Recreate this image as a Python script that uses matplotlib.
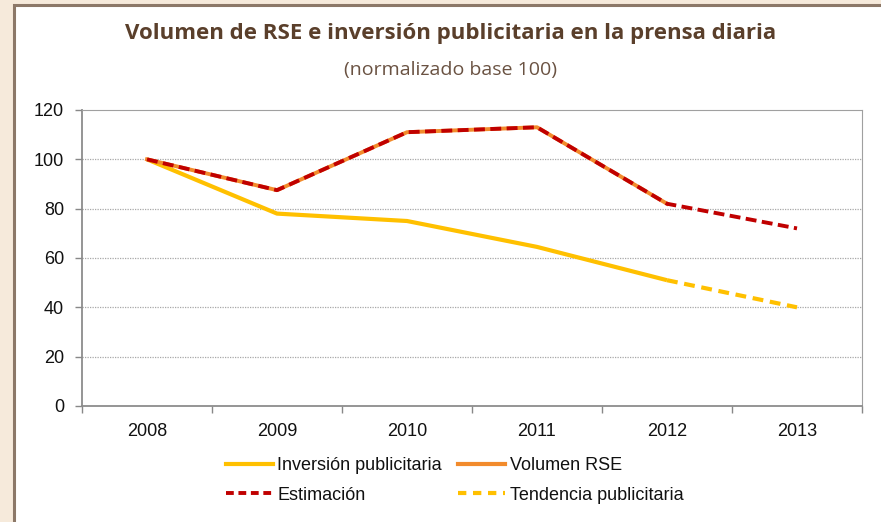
import matplotlib
matplotlib.use("Agg")
import matplotlib.pyplot as plt
from matplotlib.patches import Rectangle
from matplotlib.lines import Line2D

years = ["2008", "2009", "2010", "2011", "2012", "2013"]
inversion = [100, 78, 75, 64.5, 51]          # 2008-2012
tendencia = [51, 40]                          # 2012-2013
volumen_rse = [100, 87.5, 111, 113, 82]       # 2008-2012
estimacion = [100, 87.5, 111, 113, 82, 72]    # 2008-2013
yticks = [0, 20, 40, 60, 80, 100, 120]

W, H = 881, 522
fig = plt.figure(figsize=(W / 100, H / 100), dpi=100)
fig.patch.set_facecolor("#f6eadb")

# white panel with brown border
panel = Rectangle((14 / W, -0.05), 1.1, (522 - 5) / H + 0.05, transform=fig.transFigure,
                  facecolor="white", edgecolor="#8c7868", linewidth=2.2, zorder=-10)
fig.patches.append(panel)

ax = fig.add_axes([82 / W, (522 - 406) / H, 780 / W, 296 / H])
ax.set_facecolor("white")
ax.set_zorder(1)

x_all = list(range(len(years)))
yellow = "#ffc000"
orange = "#f28b2c"
red = "#c00000"

ax.plot(x_all[:5], inversion, color=yellow, lw=3.0, solid_capstyle="butt", zorder=3)
ax.plot(x_all[4:6], tendencia, color=yellow, lw=3.0, linestyle=(0, (2.6, 1.6)), zorder=3)
ax.plot(x_all[:5], volumen_rse, color=orange, lw=2.8, zorder=4)
ax.plot(x_all, estimacion, color=red, lw=2.8, linestyle=(0, (2.8, 1.4)), zorder=5)

ax.set_xlim(-0.5, 5.5)
ax.set_ylim(0, 120)
ax.set_yticks(yticks)
ax.set_yticklabels([str(v) for v in yticks])
ax.set_xticks([i - 0.5 for i in range(7)])
ax.set_xticklabels([])
ax.set_xticks(x_all, minor=True)
ax.set_xticklabels(years, minor=True)
ax.tick_params(axis="x", which="major", length=5, width=1, color="#888888", direction="out")
ax.tick_params(axis="x", which="minor", length=0, pad=12)
ax.tick_params(axis="y", length=5, width=1, color="#888888", direction="out", pad=8)
for lab in ax.get_xticklabels(minor=True) + ax.get_yticklabels():
    lab.set_fontfamily("Liberation Sans")
    lab.set_fontsize(13)
    lab.set_color("#111111")

for g in yticks[1:-1]:
    ax.axhline(g, color="#a8a8a8", lw=0.9, linestyle=(0, (1, 1)), zorder=1)

ax.spines["left"].set_color("#8c8c8c")
ax.spines["bottom"].set_color("#8c8c8c")
ax.spines["left"].set_linewidth(1.3)
ax.spines["bottom"].set_linewidth(1.3)
ax.spines["top"].set_color("#a0a0a0")
ax.spines["right"].set_color("#a0a0a0")

fig.text(451 / W, 1 - 33 / H, "Volumen de RSE e inversión publicitaria en la prensa diaria",
         ha="center", va="center", fontsize=16, fontweight="bold", color="#5a3f2b",
         family="Open Sans")
fig.text(451 / W, 1 - 70 / H, "(normalizado base 100)", ha="center", va="center",
         fontsize=14, color="#6a5242", family="Open Sans")

handles = [
    Line2D([], [], color=yellow, lw=3.0),
    Line2D([], [], color=red, lw=2.8, linestyle=(0, (2.0, 1.2))),
    Line2D([], [], color=orange, lw=3.0),
    Line2D([], [], color=yellow, lw=3.0, linestyle=(0, (2.0, 1.6))),
]
labels = ["Inversión publicitaria", "Estimación", "Volumen RSE", "Tendencia publicitaria"]
leg = fig.legend(handles, labels, ncol=2, loc="upper left",
                 bbox_to_anchor=(226 / W, 1 - 457 / H), frameon=False,
                 prop={"family": "Liberation Sans", "size": 13},
                 handlelength=2.6, handletextpad=0.25, columnspacing=0.9,
                 labelspacing=0.7, borderaxespad=0, borderpad=0)
for t in leg.get_texts():
    t.set_color("#111111")

fig.savefig("out.png", dpi=100, facecolor=fig.get_facecolor())
